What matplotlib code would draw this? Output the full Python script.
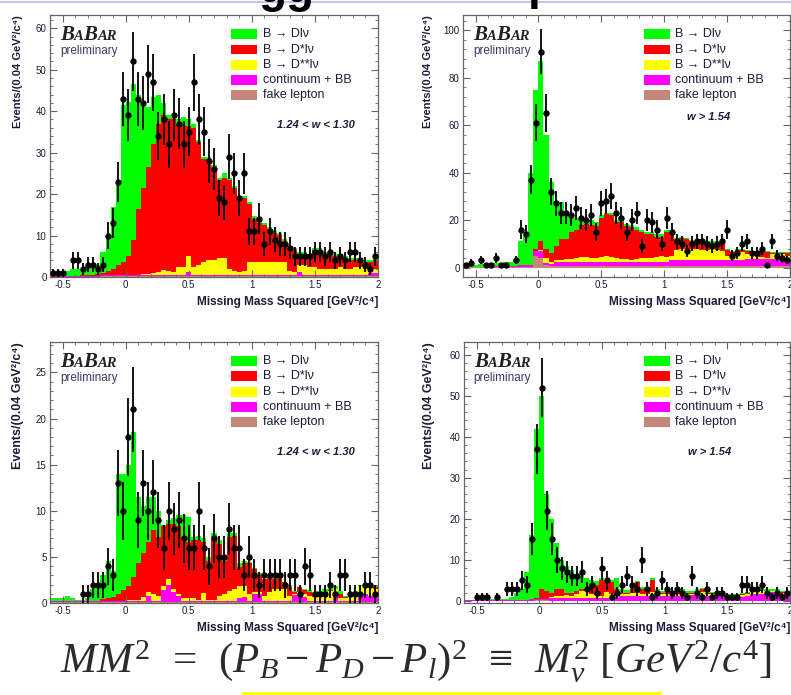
import numpy as np
import matplotlib
matplotlib.use("Agg")
import matplotlib.pyplot as plt
from matplotlib.ticker import MultipleLocator
from matplotlib.patches import Rectangle
from matplotlib.lines import Line2D
from matplotlib.offsetbox import TextArea, HPacker, VPacker, AnchoredOffsetbox

plt.rcParams['font.family'] = ['Liberation Sans', 'DejaVu Sans']
plt.rcParams['mathtext.fontset'] = 'custom'
plt.rcParams['mathtext.rm'] = 'Liberation Serif'
plt.rcParams['mathtext.it'] = 'Liberation Serif:italic'

# 65 bins of 0.04 GeV^2/c^4 from -0.6 to 2.0
edges = np.round(np.linspace(-0.6, 2.0, 66), 2)
centers = 0.5 * (edges[:-1] + edges[1:])

comp_names = ["fake lepton", "continuum + BB", "B \u2192 D**l\u03bd", "B \u2192 D*l\u03bd", "B \u2192 Dl\u03bd"]
comp_colors = ["#c4877a", "#ff00ff", "#ffff00", "#ff0000", "#00ff00"]

# ---------------- top left: 1.24 < w < 1.30 ----------------
tl_counts = [1, 1, 1, 0, 4, 4, 2, 3, 3, 2,
             3, 10, 13, 23, 43, 39, 52, 43, 42, 49,
             47, 34, 38, 32, 39, 37, 32, 35, 47, 38,
             35, 28, 26, 19, 18, 29, 25, 19, 25, 11,
             11, 14, 8, 11, 9, 8, 8, 7, 5, 5,
             5, 5, 6, 6, 5, 6, 4, 5, 4, 6,
             6, 4, 3, 2, 5]
tl_fake = [0.1, 0.1, 0.1, 0.1, 0.1, 0.1, 0.1, 0.1, 0.1, 0.1,
           0.2, 0.2, 0.2, 0.2, 0.3, 0.3, 0.2, 0.2, 0.2, 0.2,
           0.2, 0.2, 0.2, 0.2, 0.2, 0.2, 0.2, 0.3, 0.2, 0.2,
           0.2, 0.2, 0.2, 0.2, 0.2, 0.2, 0.2, 0.2, 0.2, 0.2,
           0.2, 0.2, 0.2, 0.2, 0.2, 0.2, 0.2, 0.2, 0.2, 0.3,
           0.2, 0.2, 0.2, 0.2, 0.2, 0.2, 0.2, 0.2, 0.2, 0.2,
           0.2, 0.2, 0.2, 0.3, 0.3]
tl_cont = [0.2, 0.2, 0.2, 0.2, 0.2, 0.2, 0.2, 0.2, 0.2, 0.2,
           0.3, 0.3, 0.3, 0.3, 0.3, 0.3, 0.3, 0.3, 0.3, 0.3,
           0.3, 0.3, 0.3, 0.3, 0.3, 0.3, 0.3, 0.9, 0.3, 0.3,
           0.3, 0.3, 0.3, 0.3, 0.3, 0.3, 0.3, 0.3, 0.3, 0.3,
           0.4, 0.4, 0.4, 0.4, 0.4, 0.4, 0.4, 0.3, 0.3, 0.9,
           0.3, 0.3, 0.3, 0.3, 0.3, 0.3, 0.3, 0.3, 0.3, 0.3,
           0.3, 0.3, 0.3, 0.7, 0.7]
tl_dss = [0, 0, 0, 0, 0, 0, 0, 0, 0, 0,
          0, 0, 0, 0, 0, 0, 0.1, 0.1, 0.2, 0.3,
          0.5, 0.7, 1.1, 1.0, 0.7, 2.0, 2.0, 3.8, 2.0, 2.5,
          3.0, 3.5, 3.5, 4.0, 4.0, 1.5, 1.0, 0.7, 1.0, 3.0,
          3.0, 3.0, 3.0, 3.0, 3.0, 3.0, 3.0, 1.0, 0.7, 1.6,
          2.5, 2.0, 2.0, 1.5, 1.5, 1.5, 1.5, 2.0, 1.5, 1.5,
          2.0, 2.0, 1.5, 1.0, 1.0]
tl_dstar = [0, 0, 0, 0, 0, 0, 0.2, 0.2, 0.2, 0.5,
            0.5, 1.0, 1.5, 2.5, 3.0, 4.5, 8.4, 15.9, 20.8, 25.7,
            31.0, 35.8, 37.4, 36.5, 36.8, 34.5, 34.0, 31.5, 33.5, 29.5,
            25.0, 24.5, 22.5, 19.0, 19.5, 21.5, 20.0, 17.8, 17.5, 14.0,
            10.5, 9.5, 9.0, 8.0, 7.0, 6.5, 5.0, 5.5, 5.3, 2.7,
            2.5, 2.5, 4.0, 4.5, 3.5, 3.5, 3.0, 2.0, 2.5, 2.0,
            1.5, 1.5, 1.5, 1.5, 2.0]
tl_d = [0.2, 0.2, 0.7, 1.2, 1.7, 1.7, 1.5, 2.0, 2.0, 2.2,
        5.0, 8.5, 15.0, 20.5, 38.0, 37.0, 37.5, 27.5, 20.5, 14.5,
        11.5, 7.0, 3.0, 1.0, 0.5, 1.0, 2.0, 1.5, 1.0, 0.5,
        0.5, 0.5, 0.5, 0.5, 1.0, 0.5, 0.5, 0.5, 0.5, 0.5,
        0.5, 0.5, 0.5, 0.5, 0.5, 0.5, 0.5, 0.5, 0.5, 0.5,
        0.5, 0.5, 0.5, 0.5, 0.5, 0.5, 0.5, 0.5, 0.5, 0.5,
        0.5, 0.5, 0.5, 0.5, 0.5]

# ---------------- top right: w > 1.54 ----------------
tr_counts = [1, 2, 0, 3, 1, 1, 4, 1, 1, 0,
             3, 16, 14, 37, 61, 91, 65, 32, 27, 23,
             23, 22, 25, 21, 20, 22, 15, 27, 28, 30,
             23, 21, 15, 20, 23, 9, 20, 19, 16, 10,
             21, 15, 11, 10, 7, 10, 11, 11, 10, 9,
             10, 11, 16, 5, 6, 10, 11, 6, 6, 8,
             1, 11, 5, 4, 3]
tr_fake = [0.2, 0.2, 0.2, 0.2, 0.2, 0.2, 0.2, 0.2, 0.2, 0.2,
           0.2, 0.2, 0.2, 0.2, 5.0, 4.0, 1.0, 0.5, 0.5, 0.5,
           0.5, 0.5, 0.5, 0.5, 0.5, 0.5, 0.5, 0.5, 0.5, 0.5,
           0.5, 0.5, 0.5, 0.5, 0.5, 0.5, 0.5, 0.5, 0.5, 0.5,
           0.5, 0.5, 0.5, 0.5, 0.5, 0.5, 0.5, 0.5, 0.5, 0.5,
           0.5, 0.5, 0.5, 0.5, 0.5, 0.5, 0.5, 0.5, 0.5, 0.5,
           0.5, 0.5, 0.5, 0.5, 0.5]
tr_cont = [0.1, 0.1, 0.1, 0.1, 0.1, 0.6, 0.6, 0.6, 0.6, 0.6,
           0.6, 0.8, 0.8, 0.8, 2.0, 3.0, 1.0, 1.0, 1.7, 1.7,
           1.7, 1.7, 1.7, 1.7, 1.7, 1.7, 1.7, 1.7, 1.7, 1.7,
           1.7, 2.0, 2.0, 2.0, 2.0, 2.0, 2.0, 2.0, 2.0, 2.0,
           2.0, 2.5, 2.5, 2.5, 2.5, 2.5, 2.5, 2.5, 2.5, 2.5,
           2.5, 2.5, 2.5, 2.5, 2.5, 2.5, 3.2, 3.2, 3.2, 3.2,
           3.2, 3.2, 3.2, 3.2, 3.2]
tr_dss = [0, 0, 0, 0, 0, 0, 0, 0, 0, 0,
          0, 0, 0, 0, 0, 0.5, 2.0, 1.0, 0.8, 0.8,
          1.3, 1.3, 1.8, 2.3, 2.3, 1.8, 1.8, 2.3, 2.8, 2.3,
          1.8, 1.0, 1.0, 0.5, 1.0, 1.5, 1.5, 1.5, 2.0, 2.5,
          2.0, 2.0, 4.5, 5.0, 5.0, 5.0, 5.0, 4.5, 4.5, 5.0,
          4.5, 4.0, 2.0, 2.5, 3.5, 3.5, 1.8, 1.3, 0.8, 0.8,
          0.3, 1.8, 1.8, 1.8, 1.3]
tr_dstar = [0, 0, 0, 0, 0, 0, 0, 0, 0, 0,
            0, 0, 0, 0, 1.0, 3.5, 4.0, 3.5, 6.0, 9.0,
            8.5, 11.5, 12.0, 13.5, 14.0, 14.0, 13.5, 16.5, 17.5, 17.5,
            15.0, 15.5, 14.0, 14.0, 12.5, 11.0, 10.0, 10.0, 8.5, 8.0,
            10.5, 10.0, 4.5, 4.5, 4.0, 3.0, 3.0, 3.0, 3.0, 2.5,
            3.0, 3.0, 2.5, 1.0, 1.0, 1.0, 1.5, 1.5, 2.0, 2.0,
            2.5, 0.5, 0.5, 0.5, 1.0]
tr_d = [0.7, 0.7, 0.7, 1.2, 1.2, 0.7, 1.2, 1.2, 1.7, 1.7,
        2.7, 10.0, 13.0, 39.0, 67.0, 76.0, 48.0, 30.0, 19.0, 15.5,
        12.0, 7.0, 5.0, 2.5, 2.0, 2.0, 1.5, 1.0, 0.5, 1.0,
        1.0, 1.0, 1.0, 1.0, 1.0, 1.0, 1.0, 1.0, 1.0, 1.0,
        1.0, 1.0, 0.5, 0.5, 0.5, 0.5, 0.5, 0.5, 0.5, 0.5,
        0.5, 0.5, 0.5, 0.5, 0.5, 0.5, 0.5, 0.5, 0.5, 0.5,
        0.5, 0.5, 0.5, 0.5, 0.5]

# ---------------- bottom left: 1.24 < w < 1.30 ----------------
bl_counts = [0, 0, 0, 0, 0, 0, 1, 1, 2, 2,
             2, 4, 3, 13, 10, 18, 21, 9, 13, 10,
             12, 9, 6, 10, 8, 9, 7, 6, 6, 10,
             6, 4, 7, 5, 5, 8, 6, 6, 3, 5,
             3, 2, 3, 3, 3, 3, 2, 3, 3, 1,
             4, 3, 1, 1, 1, 2, 1, 3, 3, 1,
             1, 1, 2, 2, 1]
bl_fake = [0.1, 0.1, 0.1, 0.1, 0.1, 0.1, 0.1, 0.1, 0.1, 0.1,
           0.1, 0.1, 0.1, 0.1, 0.1, 0.1, 0.1, 0.1, 0.1, 0.1,
           0.1, 0.1, 0.1, 0.1, 0.1, 0.1, 0.1, 0.1, 0.1, 0.1,
           0.1, 0.1, 0.1, 0.1, 0.1, 0.1, 0.1, 0.1, 0.1, 0.1,
           0.1, 0.1, 0.1, 0.1, 0.1, 0.1, 0.1, 0.1, 0.1, 0.1,
           0.1, 0.1, 0.1, 0.1, 0.1, 0.1, 0.1, 0.1, 0.1, 0.1,
           0.1, 0.1, 0.1, 0.1, 0.1]
bl_cont = [0.1, 0.1, 0.1, 0.1, 0.1, 0.1, 0.1, 0.1, 0.1, 0.1,
           0.1, 0.1, 0.1, 0.1, 0.1, 0.1, 0.1, 0.1, 0.1, 0.7,
           0.1, 0.1, 1.3, 1.9, 1.1, 0.7, 0.1, 0.1, 0.1, 0.1,
           0.1, 0.1, 0.1, 0.1, 0.1, 0.1, 0.1, 0.4, 0.5, 0.1,
           0.9, 0.9, 0.1, 0.1, 0.1, 0.1, 0.1, 0.1, 0.8, 0.8,
           0.5, 0.1, 0.1, 0.1, 0.1, 0.1, 0.5, 0.1, 0.1, 0.1,
           0.1, 0.6, 0.9, 0.7, 0.7]
bl_dss = [0, 0, 0, 0, 0, 0, 0, 0, 0, 0,
          0, 0, 0, 0, 0, 0.1, 0.1, 0.1, 0.5, 0.4,
          0.8, 0.6, 0.4, 0.6, 0.3, 0.2, 0.3, 0.3, 0.3, 0.1,
          0.9, 0.1, 0.1, 0.6, 0.8, 1.1, 1.3, 1.3, 1.2, 0.8,
          0.2, 0.2, 0.6, 1.0, 1.3, 1.3, 1.3, 0.6, 0.1, 0.3,
          0.4, 0.6, 0.4, 0.5, 0.6, 1.1, 0.9, 0.3, 0.3, 0.6,
          1.0, 1.1, 0.9, 1.0, 0.7]
bl_dstar = [0, 0, 0, 0, 0, 0, 0, 0, 0, 0,
            0.2, 0.3, 0.4, 0.8, 1.2, 1.5, 2.5, 4.0, 4.7, 5.4,
            6.9, 6.4, 6.5, 6.0, 7.1, 7.3, 6.7, 6.1, 6.3, 6.5,
            5.5, 4.3, 6.9, 5.6, 3.6, 5.9, 5.8, 2.1, 2.5, 3.3,
            2.5, 1.8, 1.8, 1.6, 1.1, 1.3, 0.8, 0.9, 0.2, 0.5,
            0.4, 0.4, 0.4, 0.3, 0.4, 0.1, 0.0, 0.5, 0.2, 0.1,
            0.0, 0.0, 0.0, 0.1, 0.2]
bl_d = [0.3, 0.3, 0.3, 0.6, 0.3, 0.1, 0.1, 0.3, 1.3, 1.8,
        2.6, 4.0, 2.9, 13.0, 12.6, 13.2, 15.7, 7.2, 5.1, 4.9,
        3.6, 2.8, 0.2, 0.4, 0.6, 1.2, 2.3, 2.7, 0.4, 0.5,
        0.4, 0.4, 0.4, 0.4, 0.4, 0.4, 0.3, 0.4, 0.3, 0.1,
        0.1, 0.2, 0.0, 0.0, 0.1, 0.0, 0.0, 0.2, 0.1, 0.0,
        0.1, 0.2, 0.2, 0.3, 0.3, 0.2, 0.3, 0.3, 0.1, 0.2,
        0.1, 0.2, 0.1, 0.1, 0.2]

# ---------------- bottom right: w > 1.54 ----------------
br_counts = [0, 0, 1, 1, 1, 0, 1, 0, 3, 3,
             3, 5, 4, 15, 37, 52, 22, 15, 10, 8,
             7, 6, 6, 7, 3, 4, 2, 8, 5, 1,
             2, 4, 6, 4, 3, 10, 3, 1, 2, 5,
             3, 2, 3, 2, 1, 6, 2, 1, 3, 1,
             2, 2, 1, 1, 1, 4, 4, 3, 3, 4,
             2, 1, 2, 1, 2]
br_fake = [0.1, 0.1, 0.1, 0.1, 0.1, 0.1, 0.1, 0.1, 0.1, 0.1,
           0.1, 0.1, 0.1, 0.1, 0.3, 0.3, 0.3, 0.1, 0.1, 0.1,
           0.1, 0.1, 0.1, 0.1, 0.1, 0.1, 0.1, 0.1, 0.1, 0.1,
           0.1, 0.1, 0.1, 0.1, 0.1, 0.1, 0.1, 0.1, 0.1, 0.1,
           0.1, 0.1, 0.1, 0.1, 0.1, 0.1, 0.1, 0.1, 0.1, 0.1,
           0.1, 0.1, 0.1, 0.1, 0.1, 0.1, 0.1, 0.1, 0.1, 0.1,
           0.1, 0.1, 0.1, 0.1, 0.1]
br_cont = [0.1, 0.1, 0.1, 0.1, 0.1, 0.1, 0.1, 0.1, 0.1, 0.1,
           0.1, 0.1, 0.1, 0.4, 0.2, 0.2, 0.2, 0.6, 0.6, 0.6,
           0.6, 0.6, 0.6, 0.6, 0.6, 0.6, 0.6, 0.6, 0.6, 0.6,
           0.6, 1.2, 1.2, 1.2, 1.2, 1.2, 1.2, 1.5, 1.2, 1.2,
           1.2, 1.2, 1.2, 1.2, 1.2, 1.4, 1.2, 1.2, 1.2, 1.2,
           1.2, 1.2, 1.2, 1.2, 1.2, 0.9, 1.2, 1.7, 1.7, 1.7,
           2.1, 2.1, 1.7, 1.7, 1.4]
br_dss = [0, 0, 0, 0, 0, 0, 0, 0, 0, 0,
          0, 0, 0, 0, 0, 0, 0, 0.3, 0.5, 0.5,
          0.8, 0.6, 1.1, 1.8, 1.8, 1.1, 0.8, 0.5, 1.5, 1.1,
          0.8, 0.3, 0.3, 0.7, 0.7, 0.5, 0.5, 0.6, 0.7, 0.4,
          0.3, 0.2, 0.5, 0.4, 0.3, 0.3, 0.9, 1.0, 0.4, 0.3,
          0.2, 0.1, 0.1, 0.1, 0.1, 0.4, 0.5, 0.5, 0.6, 0.6,
          0.2, 0.2, 0.5, 0.2, 0.3]
br_dstar = [0, 0, 0, 0, 0, 0, 0, 0, 0, 0,
            0, 0, 0, 0, 0.3, 2.5, 2.0, 1.0, 1.8, 1.8,
            0.5, 0.7, 0.7, 0.3, 0.5, 1.7, 2.5, 3.8, 2.3, 2.7,
            1.5, 0.4, 0.4, 1.0, 2.5, 1.2, 0.7, 2.8, 0.5, 0.3,
            1.4, 0.5, 1.2, 0.8, 0.4, 0.2, 0.3, 0.7, 0.3, 0.4,
            0.5, 0.1, 0.1, 0.1, 0.1, 0.4, 0.2, 0.2, 0.1, 0.1,
            0.1, 0.1, 0.2, 0.2, 0.2]
br_d = [0.1, 0.1, 0.1, 0.1, 0.1, 0.3, 0.3, 0.3, 0.3, 0.8,
        1.8, 2.8, 6.8, 15.5, 41.2, 47.0, 23.5, 18.0, 11.0, 7.0,
        6.5, 5.5, 3.7, 3.2, 2.5, 1.5, 0.8, 0.5, 0.5, 0.7,
        2.5, 1.0, 0.6, 0.5, 0.3, 0.5, 0.5, 0.5, 0.5, 0.5,
        0.2, 0.5, 0.3, 0.3, 0.4, 0.4, 0.3, 0.2, 0.3, 0.3,
        0.1, 0.3, 0.2, 0.2, 0.3, 0.2, 0.3, 0.2, 0.2, 0.3,
        0.3, 0.3, 0.3, 0.2, 0.2]

TXT = "#1c1c3a"
W, H = 791, 695


def px_axes(left, top, right, bottom):
    return [left / W, 1 - bottom / H, (right - left) / W, (bottom - top) / H]


def draw_panel(ax, comps, counts, ylim, ymajor, yminor, wlabel, wpos, ylab_x, ylab_size):
    ax.hist([centers] * 5, bins=edges, weights=comps, stacked=True,
            histtype="stepfilled", color=comp_colors, linewidth=0)
    counts = np.asarray(counts, dtype=float)
    m = counts > 0
    ax.errorbar(centers[m], counts[m], yerr=np.sqrt(counts[m]), fmt="o", ms=3.6,
                color="black", elinewidth=1.3, capsize=0, zorder=5)

    ax.set_xlim(-0.6, 2.0)
    ax.set_ylim(*ylim)
    ax.set_xticks([-0.5, 0, 0.5, 1, 1.5, 2])
    ax.set_xticklabels(["-0.5", "0", "0.5", "1", "1.5", "2"])
    ax.xaxis.set_minor_locator(MultipleLocator(0.1))
    ax.yaxis.set_major_locator(MultipleLocator(ymajor))
    ax.yaxis.set_minor_locator(MultipleLocator(yminor))
    ax.tick_params(which="both", direction="in", top=True, right=True,
                   color="#666666", labelcolor=TXT, labelsize=7, pad=2.5)
    ax.tick_params(which="major", length=5, width=0.8)
    ax.tick_params(which="minor", length=2.5, width=0.6)
    for s in ax.spines.values():
        s.set_color("#666666")
        s.set_linewidth(0.9)

    ax.text(1.0, -0.095, "Missing Mass Squared [GeV\u00b2/c\u2074]", transform=ax.transAxes,
            ha="right", va="center", fontsize=8.5, weight="bold", color=TXT)
    ax.text(ylab_x, 1.0, "Events/(0.04 GeV\u00b2/c\u2074)", transform=ax.transAxes,
            rotation=90, ha="center", va="top", fontsize=ylab_size, weight="bold", color=TXT)

    # BaBar logo
    big = dict(size=15, family="Liberation Serif", style="italic", weight="bold", color="#222222")
    small = dict(size=10.5, family="Liberation Serif", style="italic", weight="bold", color="#222222")
    logo = HPacker(children=[TextArea("B", textprops=big), TextArea("A", textprops=small),
                             TextArea("B", textprops=big), TextArea("AR", textprops=small)],
                   align="baseline", pad=0, sep=0)
    prelim = TextArea("preliminary", textprops=dict(size=8.5, color="#3a3a6a"))
    box = VPacker(children=[logo, prelim], align="left", pad=0, sep=0)
    ab = AnchoredOffsetbox(loc="upper left", child=box, pad=0, borderpad=0, frameon=False,
                           bbox_to_anchor=(0.03, 0.96), bbox_transform=ax.transAxes)
    ax.add_artist(ab)

    # legend boxes, top entry first
    rows = [19, 34.5, 50, 65, 80]
    for k, row in enumerate(rows):
        idx = 4 - k
        yc = 1 - row / 262
        ax.add_patch(Rectangle((0.552, yc - 0.019), 0.08, 0.038, transform=ax.transAxes,
                               facecolor=comp_colors[idx], edgecolor="none", zorder=6))
        ax.text(0.648, yc, comp_names[idx], transform=ax.transAxes, ha="left", va="center",
                fontsize=9, color=TXT, zorder=6)

    ax.text(wpos[0], wpos[1], wlabel, transform=ax.transAxes, ha="center", va="center",
            fontsize=8, style="italic", weight="bold", color=TXT)


fig = plt.figure(figsize=(W / 100, H / 100), dpi=100)

ax_tl = fig.add_axes(px_axes(50, 15, 378, 277))
ax_tr = fig.add_axes(px_axes(463, 15, 790, 277))
ax_bl = fig.add_axes(px_axes(50, 342, 378, 603))
ax_br = fig.add_axes(px_axes(464, 342, 790, 603))

draw_panel(ax_tl, [tl_fake, tl_cont, tl_dss, tl_dstar, tl_d], tl_counts, (0, 63.2), 10, 2,
           "1.24 < w < 1.30", (0.81, 0.58), -0.098, 8)
draw_panel(ax_tr, [tr_fake, tr_cont, tr_dss, tr_dstar, tr_d], tr_counts, (-4, 106.4), 20, 4,
           "w > 1.54", (0.752, 0.61), -0.107, 8)
draw_panel(ax_bl, [bl_fake, bl_cont, bl_dss, bl_dstar, bl_d], bl_counts, (0, 28.3), 5, 1,
           "1.24 < w < 1.30", (0.81, 0.58), -0.098, 9)
draw_panel(ax_br, [br_fake, br_cont, br_dss, br_dstar, br_d], br_counts, (-0.5, 63.1), 10, 2,
           "w > 1.54", (0.752, 0.579), -0.107, 9)

# slide decorations: title descenders, rule at top, formula and its underline
fig.add_artist(Line2D([0, 1], [1 - 1.5 / H] * 2, color="#c8c3e6", lw=1.5, transform=fig.transFigure))
fig.text(258 / W, 1 - 2 / H, "gg", fontsize=33, weight="bold", va="baseline", ha="left", color="black")
fig.text(528 / W, 1 + 1 / H, "p", fontsize=33, weight="bold", va="baseline", ha="left", color="black")

fig.text(60 / W, 1 - 672 / H,
         r"$MM^2\ \,=\ \,(P_B - P_D - P_l)^2\ \,\equiv\ \,M_\nu^2\ [GeV^2/c^4]$",
         fontsize=31, color="#2b2b2b", va="baseline", ha="left")
fig.add_artist(Line2D([243 / W, 660 / W], [1 - 693 / H] * 2, color="#ffff00", lw=2,
                      transform=fig.transFigure))

fig.savefig("out.png", dpi=100)
